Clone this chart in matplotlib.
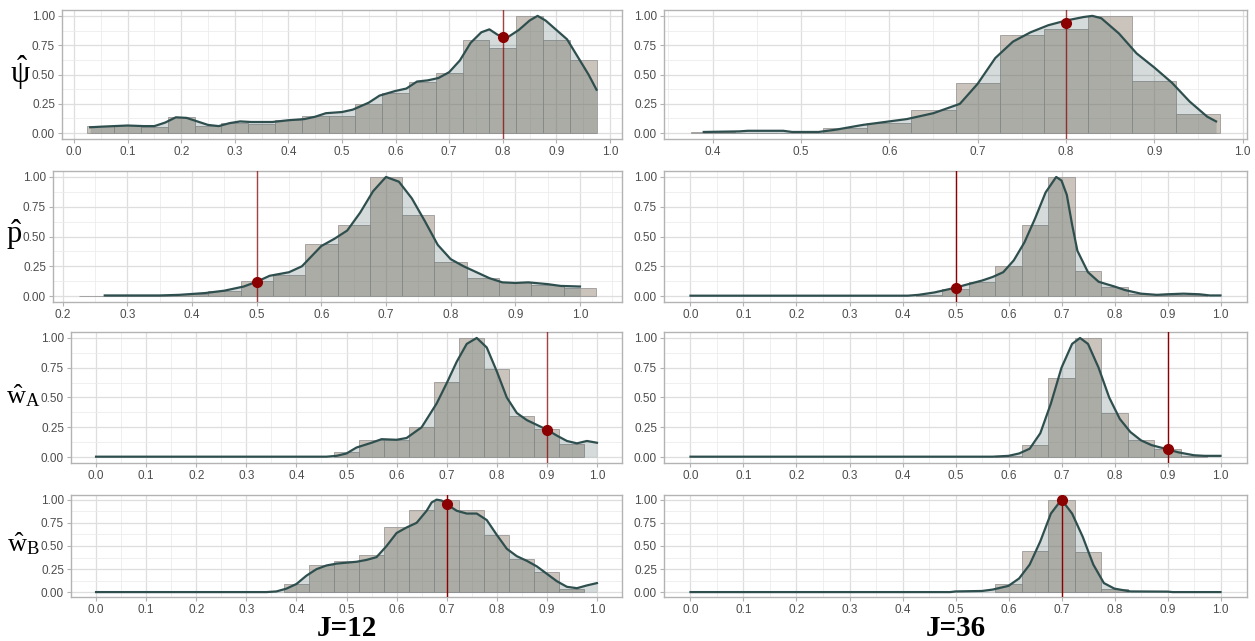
import numpy as np
import matplotlib
matplotlib.use("Agg")
import matplotlib.pyplot as plt
from matplotlib.ticker import MultipleLocator, FormatStrFormatter

plt.rcParams['font.family'] = ['Liberation Sans', 'DejaVu Sans']
plt.rcParams['mathtext.fontset'] = 'custom'
plt.rcParams['mathtext.rm'] = 'Liberation Serif'
plt.rcParams['mathtext.it'] = 'Liberation Serif'
plt.rcParams['mathtext.default'] = 'rm'

# ---- data (bar centres, normalised heights, density curve) ----
# psi-hat, J=12
psi12_bar_x = [0.05, 0.10, 0.15, 0.20, 0.25, 0.30, 0.35, 0.40, 0.45, 0.50,
               0.55, 0.60, 0.65, 0.70, 0.75, 0.80, 0.85, 0.90, 0.95]
psi12_bar_h = [0.065, 0.07, 0.05, 0.135, 0.065, 0.09, 0.08, 0.115, 0.15, 0.15,
               0.25, 0.34, 0.435, 0.515, 0.79, 0.73, 1.0, 0.79, 0.62]
psi12_dens_x = [0.03, 0.05, 0.10, 0.13, 0.15, 0.17, 0.19, 0.21, 0.23, 0.25, 0.27,
                0.29, 0.31, 0.33, 0.37, 0.40, 0.43, 0.45, 0.47, 0.50, 0.52, 0.55,
                0.57, 0.60, 0.62, 0.64, 0.66, 0.68, 0.70, 0.72, 0.74, 0.76, 0.775,
                0.79, 0.80, 0.81, 0.83, 0.85, 0.865, 0.88, 0.90, 0.92, 0.94, 0.96, 0.975]
psi12_dens_y = [0.05, 0.055, 0.065, 0.06, 0.06, 0.09, 0.135, 0.13, 0.10, 0.07, 0.06,
                0.085, 0.10, 0.095, 0.095, 0.11, 0.12, 0.14, 0.17, 0.18, 0.20, 0.26,
                0.32, 0.36, 0.38, 0.44, 0.45, 0.47, 0.52, 0.62, 0.77, 0.86, 0.885,
                0.84, 0.82, 0.82, 0.88, 0.96, 1.0, 0.96, 0.88, 0.80, 0.65, 0.50, 0.37]

# psi-hat, J=36
psi36_bar_x = [0.40, 0.45, 0.50, 0.55, 0.60, 0.65, 0.70, 0.75, 0.80, 0.85, 0.90, 0.95]
psi36_bar_h = [0.01, 0.0, 0.0, 0.045, 0.09, 0.195, 0.43, 0.835, 0.89, 1.0, 0.445, 0.16]
psi36_dens_x = [0.39, 0.43, 0.44, 0.48, 0.49, 0.52, 0.54, 0.57, 0.60, 0.62, 0.65, 0.68,
                0.70, 0.72, 0.74, 0.76, 0.78, 0.80, 0.82, 0.83, 0.84, 0.86, 0.88,
                0.90, 0.92, 0.94, 0.96, 0.97]
psi36_dens_y = [0.01, 0.015, 0.02, 0.02, 0.01, 0.01, 0.03, 0.07, 0.10, 0.12, 0.17, 0.25,
                0.42, 0.64, 0.78, 0.86, 0.92, 0.96, 0.99, 1.0, 0.98, 0.85, 0.68,
                0.56, 0.43, 0.27, 0.14, 0.10]

# p-hat, J=12
p12_bar_x = [0.25, 0.30, 0.35, 0.40, 0.45, 0.50, 0.55, 0.60, 0.65, 0.70, 0.75,
             0.80, 0.85, 0.90, 0.95, 1.00]
p12_bar_h = [0.003, 0.005, 0.005, 0.02, 0.04, 0.125, 0.18, 0.44, 0.60, 1.0, 0.68,
             0.29, 0.155, 0.115, 0.09, 0.065]
p12_dens_x = [0.265, 0.35, 0.38, 0.42, 0.45, 0.48, 0.50, 0.52, 0.55, 0.57, 0.60,
              0.62, 0.64, 0.66, 0.68, 0.70, 0.72, 0.74, 0.76, 0.78, 0.80, 0.82,
              0.84, 0.86, 0.88, 0.90, 0.92, 0.95, 0.97, 1.00]
p12_dens_y = [0.005, 0.005, 0.01, 0.025, 0.045, 0.08, 0.12, 0.17, 0.20, 0.25, 0.42,
              0.48, 0.55, 0.70, 0.88, 1.0, 0.96, 0.82, 0.63, 0.43, 0.31, 0.25,
              0.20, 0.15, 0.115, 0.11, 0.115, 0.10, 0.085, 0.08]

# p-hat, J=36
p36_bar_x = [0.45, 0.50, 0.55, 0.60, 0.65, 0.70, 0.75, 0.80, 0.85, 0.90, 0.95]
p36_bar_h = [0.01, 0.06, 0.12, 0.25, 0.60, 1.0, 0.21, 0.075, 0.015, 0.01, 0.01]
p36_dens_x = [0.0, 0.41, 0.43, 0.46, 0.48, 0.50, 0.52, 0.55, 0.57, 0.59, 0.61, 0.63,
              0.65, 0.67, 0.69, 0.70, 0.71, 0.72, 0.73, 0.75, 0.77, 0.80, 0.82,
              0.85, 0.88, 0.90, 0.93, 0.96, 0.98, 1.0]
p36_dens_y = [0.003, 0.003, 0.01, 0.03, 0.05, 0.07, 0.095, 0.13, 0.16, 0.20, 0.30, 0.45,
              0.65, 0.87, 1.0, 0.97, 0.85, 0.60, 0.38, 0.20, 0.12, 0.08, 0.05,
              0.02, 0.01, 0.015, 0.02, 0.015, 0.005, 0.005]

# wA-hat, J=12
wa12_bar_x = [0.50, 0.55, 0.60, 0.65, 0.70, 0.75, 0.80, 0.85, 0.90, 0.95]
wa12_bar_h = [0.04, 0.145, 0.145, 0.25, 0.63, 1.0, 0.74, 0.345, 0.235, 0.11]
wa12_dens_x = [0.0, 0.46, 0.48, 0.50, 0.52, 0.55, 0.57, 0.60, 0.62, 0.65, 0.68, 0.70,
               0.72, 0.74, 0.76, 0.78, 0.80, 0.82, 0.84, 0.86, 0.88, 0.90, 0.92,
               0.94, 0.96, 0.98, 1.0]
wa12_dens_y = [0.003, 0.003, 0.01, 0.03, 0.08, 0.12, 0.15, 0.145, 0.16, 0.25, 0.45, 0.62,
               0.80, 0.95, 1.0, 0.92, 0.72, 0.50, 0.37, 0.31, 0.27, 0.23, 0.18,
               0.135, 0.115, 0.135, 0.12]

# wA-hat, J=36
wa36_bar_x = [0.60, 0.65, 0.70, 0.75, 0.80, 0.85, 0.90, 0.95]
wa36_bar_h = [0.005, 0.10, 0.665, 1.0, 0.37, 0.14, 0.065, 0.005]
wa36_dens_x = [0.0, 0.57, 0.60, 0.62, 0.64, 0.66, 0.68, 0.70, 0.72, 0.735, 0.75, 0.77,
               0.79, 0.81, 0.83, 0.85, 0.87, 0.90, 0.92, 0.95, 0.97, 1.0]
wa36_dens_y = [0.003, 0.003, 0.01, 0.03, 0.07, 0.20, 0.45, 0.75, 0.95, 1.0, 0.95, 0.75,
               0.50, 0.32, 0.21, 0.14, 0.10, 0.065, 0.04, 0.015, 0.01, 0.01]

# wB-hat, J=12
wb12_bar_x = [0.40, 0.45, 0.50, 0.55, 0.60, 0.65, 0.70, 0.75, 0.80, 0.85, 0.90, 0.95]
wb12_bar_h = [0.085, 0.30, 0.34, 0.40, 0.70, 0.89, 1.0, 0.89, 0.62, 0.355, 0.215, 0.04]
wb12_dens_x = [0.0, 0.34, 0.36, 0.38, 0.40, 0.42, 0.44, 0.46, 0.48, 0.50, 0.52, 0.54,
               0.56, 0.58, 0.60, 0.62, 0.64, 0.66, 0.67, 0.68, 0.69, 0.70, 0.72,
               0.74, 0.76, 0.78, 0.80, 0.82, 0.84, 0.86, 0.88, 0.90, 0.92, 0.94,
               0.96, 0.98, 1.0]
wb12_dens_y = [0.003, 0.003, 0.01, 0.04, 0.09, 0.18, 0.25, 0.29, 0.31, 0.32, 0.33, 0.35,
               0.38, 0.50, 0.64, 0.70, 0.75, 0.88, 0.97, 1.0, 0.99, 0.95, 0.88,
               0.85, 0.85, 0.78, 0.62, 0.47, 0.39, 0.34, 0.28, 0.20, 0.12, 0.06,
               0.045, 0.075, 0.10]

# wB-hat, J=36
wb36_bar_x = [0.60, 0.65, 0.70, 0.75, 0.80]
wb36_bar_h = [0.085, 0.45, 1.0, 0.43, 0.04]
wb36_dens_x = [0.0, 0.49, 0.50, 0.55, 0.57, 0.60, 0.62, 0.64, 0.66, 0.68, 0.70, 0.72,
               0.74, 0.76, 0.78, 0.80, 0.83, 0.90, 0.91, 1.0]
wb36_dens_y = [0.003, 0.003, 0.01, 0.015, 0.03, 0.07, 0.15, 0.30, 0.55, 0.85, 1.0, 0.85,
               0.60, 0.30, 0.10, 0.04, 0.01, 0.008, 0.003, 0.003]

# true values (vertical lines) and density height there
true_x = [0.8, 0.8, 0.5, 0.5, 0.9, 0.9, 0.7, 0.7]
dot_y = [0.82, 0.94, 0.12, 0.07, 0.23, 0.07, 0.95, 1.0]

row_labels = ['$\\hat{\u03c8}$', r'$\hat{p}$', r'$\hat{w}_A$', r'$\hat{w}_B$']
col_labels = ['J=12', 'J=36']

bars_x = [psi12_bar_x, psi36_bar_x, p12_bar_x, p36_bar_x, wa12_bar_x, wa36_bar_x, wb12_bar_x, wb36_bar_x]
bars_h = [psi12_bar_h, psi36_bar_h, p12_bar_h, p36_bar_h, wa12_bar_h, wa36_bar_h, wb12_bar_h, wb36_bar_h]
dens_x = [psi12_dens_x, psi36_dens_x, p12_dens_x, p36_dens_x, wa12_dens_x, wa36_dens_x, wb12_dens_x, wb36_dens_x]
dens_y = [psi12_dens_y, psi36_dens_y, p12_dens_y, p36_dens_y, wa12_dens_y, wa36_dens_y, wb12_dens_y, wb36_dens_y]

# ---- layout in pixels ----
W, H = 1255, 641
row_top = [10, 171, 332, 495]
row_bot = [139, 302, 463, 597]
left_x0 = [62, 53, 71, 71]
left_x1 = 622
right_x0, right_x1 = 664, 1247
line_alpha = [0.7, 0.7, 0.7, 1.0, 0.7, 1.0, 1.0, 1.0]
label_size = [22, 22, 19, 19]

fig = plt.figure(figsize=(W / 100, H / 100), dpi=100)

bw = 0.05
for i in range(8):
    r, c = divmod(i, 2)
    x0 = left_x0[r] if c == 0 else right_x0
    x1 = left_x1 if c == 0 else right_x1
    ax = fig.add_axes([x0 / W, 1 - row_bot[r] / H, (x1 - x0) / W, (row_bot[r] - row_top[r]) / H])

    bx = np.array(bars_x[i])
    dx = np.array(dens_x[i])
    lo = min(bx.min() - bw / 2, dx.min())
    hi = max(bx.max() + bw / 2, dx.max())
    pad = 0.05 * (hi - lo)
    ax.set_xlim(lo - pad, hi + pad)
    ax.set_ylim(-0.05, 1.05)

    ax.bar(bx, bars_h[i], width=bw, facecolor=(0.545, 0.49, 0.42, 0.45),
           edgecolor='#9a9a9a', linewidth=0.6, zorder=2)
    ax.fill_between(dx, dens_y[i], color='#2f4f4f', alpha=0.2, lw=0, zorder=3)
    ax.plot(dx, dens_y[i], color='#2f4f4f', lw=1.6, zorder=4)
    ax.axvline(true_x[i], color='#8b0000', lw=1.0, alpha=line_alpha[i], zorder=5)
    ax.plot([true_x[i]], [dot_y[i]], 'o', color='#8b0000', ms=7, zorder=6)

    ax.xaxis.set_major_locator(MultipleLocator(0.1))
    ax.xaxis.set_minor_locator(MultipleLocator(0.05))
    ax.yaxis.set_major_locator(MultipleLocator(0.25))
    ax.yaxis.set_minor_locator(MultipleLocator(0.125))
    ax.xaxis.set_major_formatter(FormatStrFormatter('%.1f'))
    ax.yaxis.set_major_formatter(FormatStrFormatter('%.2f'))
    ax.grid(which='major', color='#dedede', lw=0.9, zorder=0)
    ax.grid(which='minor', color='#ececec', lw=0.6, zorder=0)
    ax.set_axisbelow(True)
    ax.tick_params(which='major', length=3, width=0.8, color='#b3b3b3',
                   labelcolor='#4d4d4d', labelsize=8.5, pad=2)
    ax.tick_params(which='minor', length=0)
    for s in ax.spines.values():
        s.set_color('#b3b3b3')
        s.set_linewidth(1.0)

    if c == 0:
        fig.text((left_x0[r] - 31) / W, 1 - (0.5 * (row_top[r] + row_bot[r]) - 2) / H,
                 row_labels[r], fontsize=label_size[r], ha='right', va='center', color='black')

fig.text(0.5 * (71 + 622) / W, 1 - 628 / H, col_labels[0], fontfamily='Liberation Serif',
         fontweight='bold', fontsize=21, ha='center', va='center')
fig.text(0.5 * (664 + 1247) / W, 1 - 628 / H, col_labels[1], fontfamily='Liberation Serif',
         fontweight='bold', fontsize=21, ha='center', va='center')

fig.savefig('out.png', dpi=100)
